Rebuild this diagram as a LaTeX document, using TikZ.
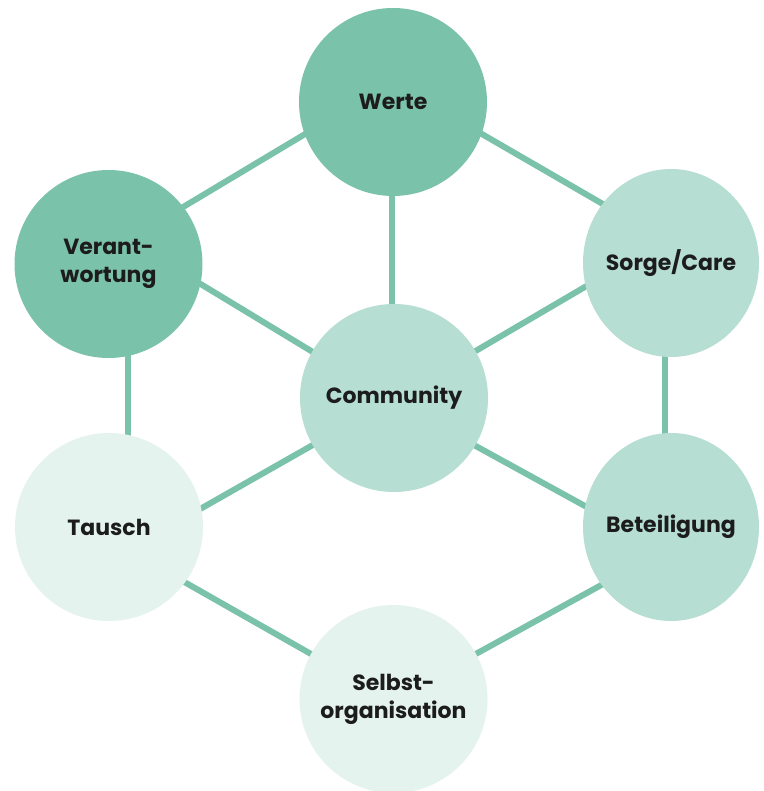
\documentclass[tikz,border=0pt]{standalone}
\usepackage{fontspec}
\setmainfont{Poppins}
\usetikzlibrary{shapes.geometric}
\definecolor{tealD}{HTML}{7BC2AA}
\definecolor{tealM}{HTML}{B6DED2}
\definecolor{tealL}{HTML}{E5F3EF}
\definecolor{txtc}{HTML}{1C1C1C}
\begin{document}
\begin{tikzpicture}[x=1pt,y=-1pt,
  bubble/.style={ellipse, inner sep=-40pt, minimum width=188pt, minimum height=188pt,
    align=center, text=txtc, font=\fontsize{22}{28}\selectfont\bfseries},
  narrow/.style={minimum width=176pt},
  dark/.style={fill=tealD},
  mid/.style={fill=tealM},
  light/.style={fill=tealL},
  link/.style={draw=tealD, line width=6pt}
]
\useasboundingbox[fill=white] (0,0) rectangle (763,791);
% hub coordinates of the connecting hexagon
\coordinate (hW) at (392,82);
\coordinate (hV) at (128,240);
\coordinate (hS) at (665,240);
\coordinate (hC) at (392,400);
\coordinate (hT) at (128,550);
\coordinate (hB) at (665,550);
\coordinate (hO) at (392,700);
% connectors
\draw[link] (hW) -- (hV);
\draw[link] (hW) -- (hS);
\draw[link] (hW) -- (hC);
\draw[link] (hV) -- (hC);
\draw[link] (hS) -- (hC);
\draw[link] (hV) -- (hT);
\draw[link] (hS) -- (hB);
\draw[link] (hT) -- (hC);
\draw[link] (hB) -- (hC);
\draw[link] (hT) -- (hO);
\draw[link] (hB) -- (hO);
% circles
\node[bubble, dark] (werte) at (393,102) {Werte};
\node[bubble, dark] (verant) at (108.5,264) {Verant-\\wortung};
\node[bubble, mid, narrow] (sorge) at (671,263) {Sorge/Care};
\node[bubble, mid] (comm) at (394,398) {Community};
\node[bubble, light] (tausch) at (109,527) {Tausch};
\node[bubble, mid, narrow] (beteil) at (671,527) {Beteiligung};
\node[bubble, light] (selbst) at (393.5,699) {Selbst-\\organisation};
\end{tikzpicture}
\end{document}
